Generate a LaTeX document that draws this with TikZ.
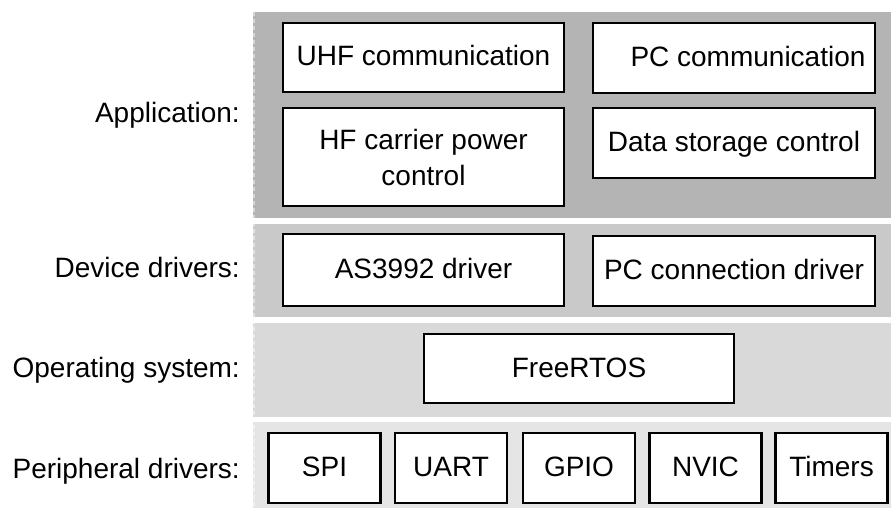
\documentclass[tikz,border=0pt]{standalone}
\usepackage{fontspec}
\setmainfont{Liberation Sans}
\definecolor{appgray}{RGB}{180,180,180}
\definecolor{devgray}{RGB}{201,201,201}
\definecolor{osgray}{RGB}{217,217,217}
\definecolor{perigray}{RGB}{229,229,229}
\begin{document}
\begin{tikzpicture}[x=1pt,y=-1pt,
  txt/.style={font=\fontsize{28}{36}\selectfont},
  box/.style={txt, draw=black, line width=2.6pt, fill=white, inner sep=0pt,
    align=center, text height=20pt, text depth=3pt},
  tallbox/.style={txt, draw=black, line width=2.6pt, fill=white, inner sep=0pt,
    align=center},
  lab/.style={txt, anchor=base east, inner sep=0pt},
  edge/.style={white, opacity=0.45, line width=1.6pt, dash pattern=on 4pt off 3pt}]
\useasboundingbox (0,0) rectangle (891,508);

% layer bands
\fill[appgray]  (253,12)  rectangle (891,218);
\fill[devgray]  (253,224) rectangle (891,317);
\fill[osgray]   (253,323) rectangle (891,417);
\fill[perigray] (253,422) rectangle (891,508);
\draw[edge] (254,12) -- (254,508);

% layer names
\node[lab] (lapp) at (240,123) {Application:};
\node[lab] (ldev) at (240,277) {Device drivers:};
\node[lab] (los)  at (240,377) {Operating system:};
\node[lab] (lper) at (240,478) {Peripheral drivers:};

% application layer
\node[box, minimum width=281pt, minimum height=69pt] (uhf) at (423.5,57.5) {UHF communication};
\node[box, minimum width=282pt, minimum height=70pt] (pcc) at (734,58) {\hspace*{28pt}PC communication};
\node[tallbox, minimum width=281pt, minimum height=98pt] (hf) at (423.5,157) {HF carrier power\\control};
\node[box, minimum width=282pt, minimum height=70pt] (dsc) at (734,143) {Data storage control};

% device drivers
\node[box, minimum width=281pt, minimum height=72pt] (as) at (423.5,270) {AS3992 driver};
\node[box, minimum width=282pt, minimum height=70pt] (pcd) at (734,271) {PC connection driver};

% operating system
\node[box, minimum width=310pt, minimum height=69pt] (rtos) at (579,368.5) {FreeRTOS};

% peripheral drivers
\foreach \n/\cx/\t in {spi/324.5/SPI, uart/451/UART, gpio/579/GPIO, nvic/705.5/NVIC, tim/831.5/Timers}
  \node[box, minimum width=112pt, minimum height=70pt] (\n) at (\cx,468) {\t};
\end{tikzpicture}
\end{document}
